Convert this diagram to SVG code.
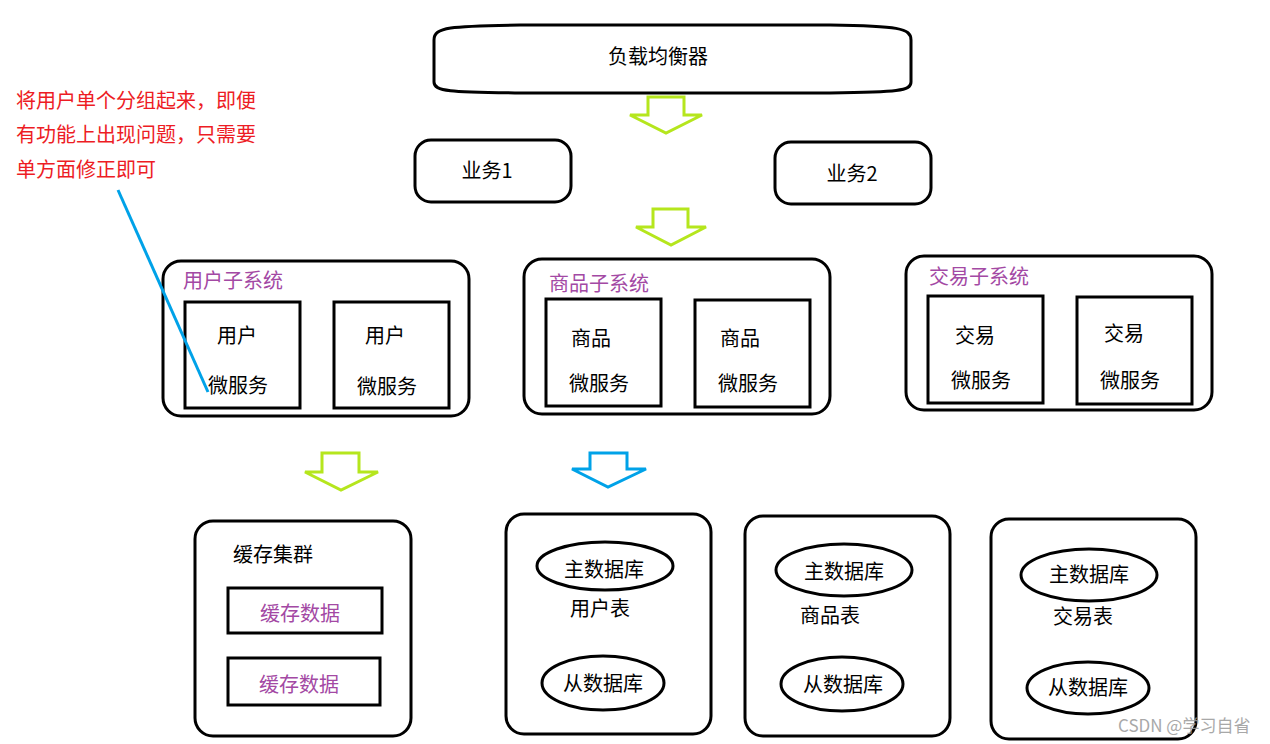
<svg xmlns="http://www.w3.org/2000/svg" width="1270" height="744" viewBox="0 0 1270 744">
<style>
text{font-family:"Noto Sans CJK SC","Noto Sans",sans-serif;font-size:20px;fill:#000}
.c{text-anchor:middle}
.p{fill:#a349a4}
.r{fill:#ed1c24;font-size:20px}
.box{fill:#fff;stroke:#000;stroke-width:3}
.g{fill:#fff;stroke:#b5e61d;stroke-width:3;stroke-linejoin:miter}
.b{fill:#fff;stroke:#00a2e8;stroke-width:3}
.wm{fill:#9a9a9a;font-size:17px;opacity:0.85}
</style>
<rect width="1270" height="744" fill="#fff"/>
<g id="connectors">
<polygon class="g" points="648,97 684,97 684,115 702,115 666,133 630,115 648,115"/>
<polygon class="g" points="653,209 688,209 688,227 706,227 671,245 636,227 653,227"/>
<polygon class="g" points="322,453 359,453 359,472 378,472 341,490 305,472 322,472"/>
<polygon class="b" points="590,453 627,453 627,469 646,469 608,487 572,469 590,469"/>
</g>
<g id="lb">
<path class="box" d="M434,40 C434,27 450,26 520,25 L830,25 C898,26 911,28 911,40 L911,82 C911,91 898,92 830,93 L520,93 C452,92 434,92 434,82 Z"/>
<text class="c" x="658" y="64">负载均衡器</text>
</g>
<g id="biz1">
<rect class="box" x="415" y="140" width="156" height="62" rx="16"/>
<text class="c" x="487" y="178">业务1</text>
</g>
<g id="biz2">
<rect class="box" x="775" y="142" width="156" height="62" rx="16"/>
<text class="c" x="852" y="181">业务2</text>
</g>
<g id="user-sub">
<rect class="box" x="163" y="261" width="306" height="155" rx="18"/>
<text class="p" x="183" y="288">用户子系统</text>
<rect class="box" x="185" y="302" width="115" height="106"/>
<text class="c" x="237" y="343">用户</text>
<text class="c" x="238" y="393">微服务</text>
<rect class="box" x="334" y="302" width="115" height="106"/>
<text class="c" x="385" y="343">用户</text>
<text class="c" x="387" y="394">微服务</text>
</g>
<g id="goods-sub">
<rect class="box" x="524" y="259" width="306" height="155" rx="18"/>
<text class="p" x="549" y="291">商品子系统</text>
<rect class="box" x="546" y="299" width="115" height="107"/>
<text class="c" x="591" y="346">商品</text>
<text class="c" x="599" y="391">微服务</text>
<rect class="box" x="695" y="300" width="115" height="107"/>
<text class="c" x="740" y="346">商品</text>
<text class="c" x="748" y="391">微服务</text>
</g>
<g id="trade-sub">
<rect class="box" x="906" y="256" width="306" height="154" rx="18"/>
<text class="p" x="929" y="284">交易子系统</text>
<rect class="box" x="928" y="296" width="115" height="107"/>
<text class="c" x="975" y="343">交易</text>
<text class="c" x="981" y="388">微服务</text>
<rect class="box" x="1077" y="297" width="115" height="107"/>
<text class="c" x="1124" y="341">交易</text>
<text class="c" x="1130" y="388">微服务</text>
</g>
<g id="cache">
<rect class="box" x="195" y="521" width="216" height="215" rx="18"/>
<text x="233" y="562">缓存集群</text>
<rect class="box" x="228" y="588" width="154" height="45"/>
<text class="c p" x="300" y="621">缓存数据</text>
<rect class="box" x="228" y="658" width="152" height="47"/>
<text class="c p" x="299" y="692">缓存数据</text>
</g>
<g id="user-db">
<rect class="box" x="506" y="514" width="205" height="220" rx="18"/>
<ellipse class="box" cx="605" cy="566" rx="68" ry="24"/>
<text class="c" x="604" y="577">主数据库</text>
<text class="c" x="600" y="616">用户表</text>
<ellipse class="box" cx="603" cy="683" rx="61" ry="27"/>
<text class="c" x="603" y="691">从数据库</text>
</g>
<g id="goods-db">
<rect class="box" x="745" y="516" width="205" height="220" rx="18"/>
<ellipse class="box" cx="844" cy="570" rx="68" ry="26"/>
<text class="c" x="844" y="579">主数据库</text>
<text x="800" y="623">商品表</text>
<ellipse class="box" cx="842" cy="684" rx="61" ry="27"/>
<text class="c" x="843" y="692">从数据库</text>
</g>
<g id="trade-db">
<rect class="box" x="991" y="519" width="205" height="220" rx="18"/>
<ellipse class="box" cx="1089" cy="575" rx="68" ry="26"/>
<text class="c" x="1089" y="582">主数据库</text>
<text x="1053" y="624">交易表</text>
<ellipse class="box" cx="1088" cy="688" rx="61" ry="26"/>
<text class="c" x="1088" y="695">从数据库</text>
</g>
<g id="note">
<text class="r" x="16" y="108">将用户单个分组起来，即便</text>
<text class="r" x="16" y="142">有功能上出现问题，只需要</text>
<text class="r" x="16" y="177">单方面修正即可</text>
<line x1="118" y1="190" x2="208" y2="392" stroke="#00a2e8" stroke-width="3"/>
</g>
<text class="wm" x="1118" y="732">CSDN @学习自省</text>
</svg>
